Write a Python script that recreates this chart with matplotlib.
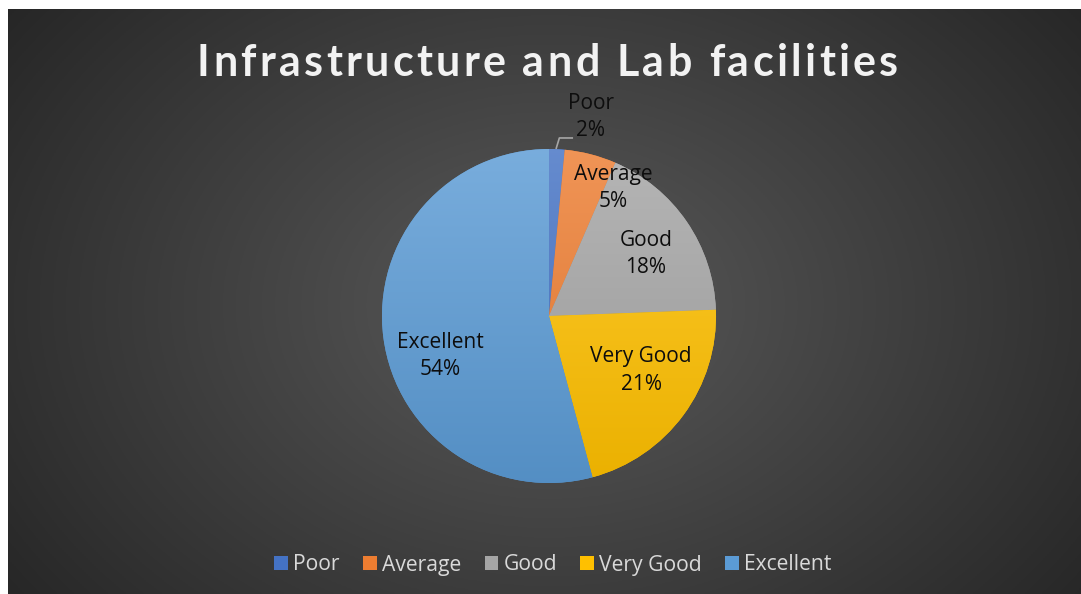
import numpy as np
import matplotlib.pyplot as plt
from matplotlib.colors import to_rgb

# chart data (slice shares, labels show them rounded)
title = "Infrastructure and Lab facilities"
categories = ["Poor", "Average", "Good", "Very Good", "Excellent"]
share = [1.5, 5.0, 17.9, 21.4, 54.2]
colors = ["#4472C4", "#ED7D31", "#A5A5A5", "#FFC000", "#5B9BD5"]

W, H = 1081, 594
fig = plt.figure(figsize=(W / 100, H / 100), dpi=100)
fig.patch.set_facecolor("white")

# dark radial background (chart area starts a few px in from the top/left)
bg = fig.add_axes([8 / W, 0, 1 - 8 / W, 1 - 9 / H])
yy, xx = np.mgrid[9:594:2, 8:1081:2]
r = np.sqrt((xx - 549.0) ** 2 + ((yy - 305.0) * 1.35) ** 2) / 680.0
v = (90 - 52 * np.clip(r, 0, 1.2)) / 255.0
bg.imshow(np.dstack([v, v, v]), aspect="auto", extent=[0, 1, 0, 1], origin="upper")
bg.set_xlim(0, 1)
bg.set_ylim(0, 1)
bg.axis("off")

# pie, centre (549, 316) px, radius 167 px
cx, cy, rad = 549, 316, 167
ax = fig.add_axes([(cx - rad) / W, (H - cy - rad) / H, 2 * rad / W, 2 * rad / H])
wedges, _ = ax.pie(share, colors=colors, startangle=90, counterclock=False,
                   radius=1, wedgeprops=dict(linewidth=0))

# vertical shading of each slice
t = np.linspace(0, 1, 256)[:, None, None]
for w, c in zip(wedges, colors):
    rgb = np.array(to_rgb(c))
    top = rgb + (1 - rgb) * 0.18
    bot = rgb * 0.92
    img = top * (1 - t) + bot * t
    im = ax.imshow(img, extent=[-1, 1, -1, 1], origin="upper", aspect="auto",
                   zorder=w.get_zorder())
    im.set_clip_path(w)

ax.set_xlim(-1, 1)
ax.set_ylim(-1, 1)
ax.set_aspect("equal")
ax.axis("off")

# data labels
label_pos = [(0.251, 1.192), (0.383, 0.768), (0.581, 0.373), (0.551, -0.327), (-0.653, -0.240)]
for cat, p, (lx, ly) in zip(categories, share, label_pos):
    ax.text(lx, ly, f"{cat}\n{round(p)}%", ha="center", va="center", fontsize=15,
            family="Open Sans", color="#0d0d0d", linespacing=1.4)

# leader line for the small slice
ax.plot([0.042, 0.062, 0.144], [1.0, 1.066, 1.066], color="#a6a6a6", lw=1.2,
        clip_on=False, solid_capstyle="butt")

# title, letter-spaced by hand
tprops = dict(fontsize=31, fontweight="bold", family="Lato", color="#f2f2f2")
renderer = fig.canvas.get_renderer()
chars = []
for ch in title:
    tx = fig.text(0, 0, ch, **tprops)
    chars.append((tx, tx.get_window_extent(renderer).width if ch != " " else 0))
space_w = fig.text(0, 0, "a a", **tprops)
aa = fig.text(0, 0, "aa", **tprops)
sp = space_w.get_window_extent(renderer).width - aa.get_window_extent(renderer).width
space_w.remove()
aa.remove()
widths = [wd if title[i] != " " else sp for i, (tx, wd) in enumerate(chars)]
x0, x1 = 197.0, 898.0
gap = (x1 - x0 - sum(widths)) / (len(title) - 1)
x = x0
for (tx, _), wd in zip(chars, widths):
    tx.set_position((x / W, (H - 76) / H))
    tx.set_va("baseline")
    x += wd + gap

# legend
leg = fig.legend(wedges, categories, loc="center", bbox_to_anchor=(553 / W, (H - 565) / H),
                 ncol=5, frameon=False, handlelength=0.65, handleheight=0.65,
                 handletextpad=0.25, columnspacing=1.1,
                 prop=dict(family="Open Sans", size=15.2))
for txt in leg.get_texts():
    txt.set_color("#d9d9d9")

fig.savefig("out.png", dpi=100, facecolor=fig.get_facecolor())
